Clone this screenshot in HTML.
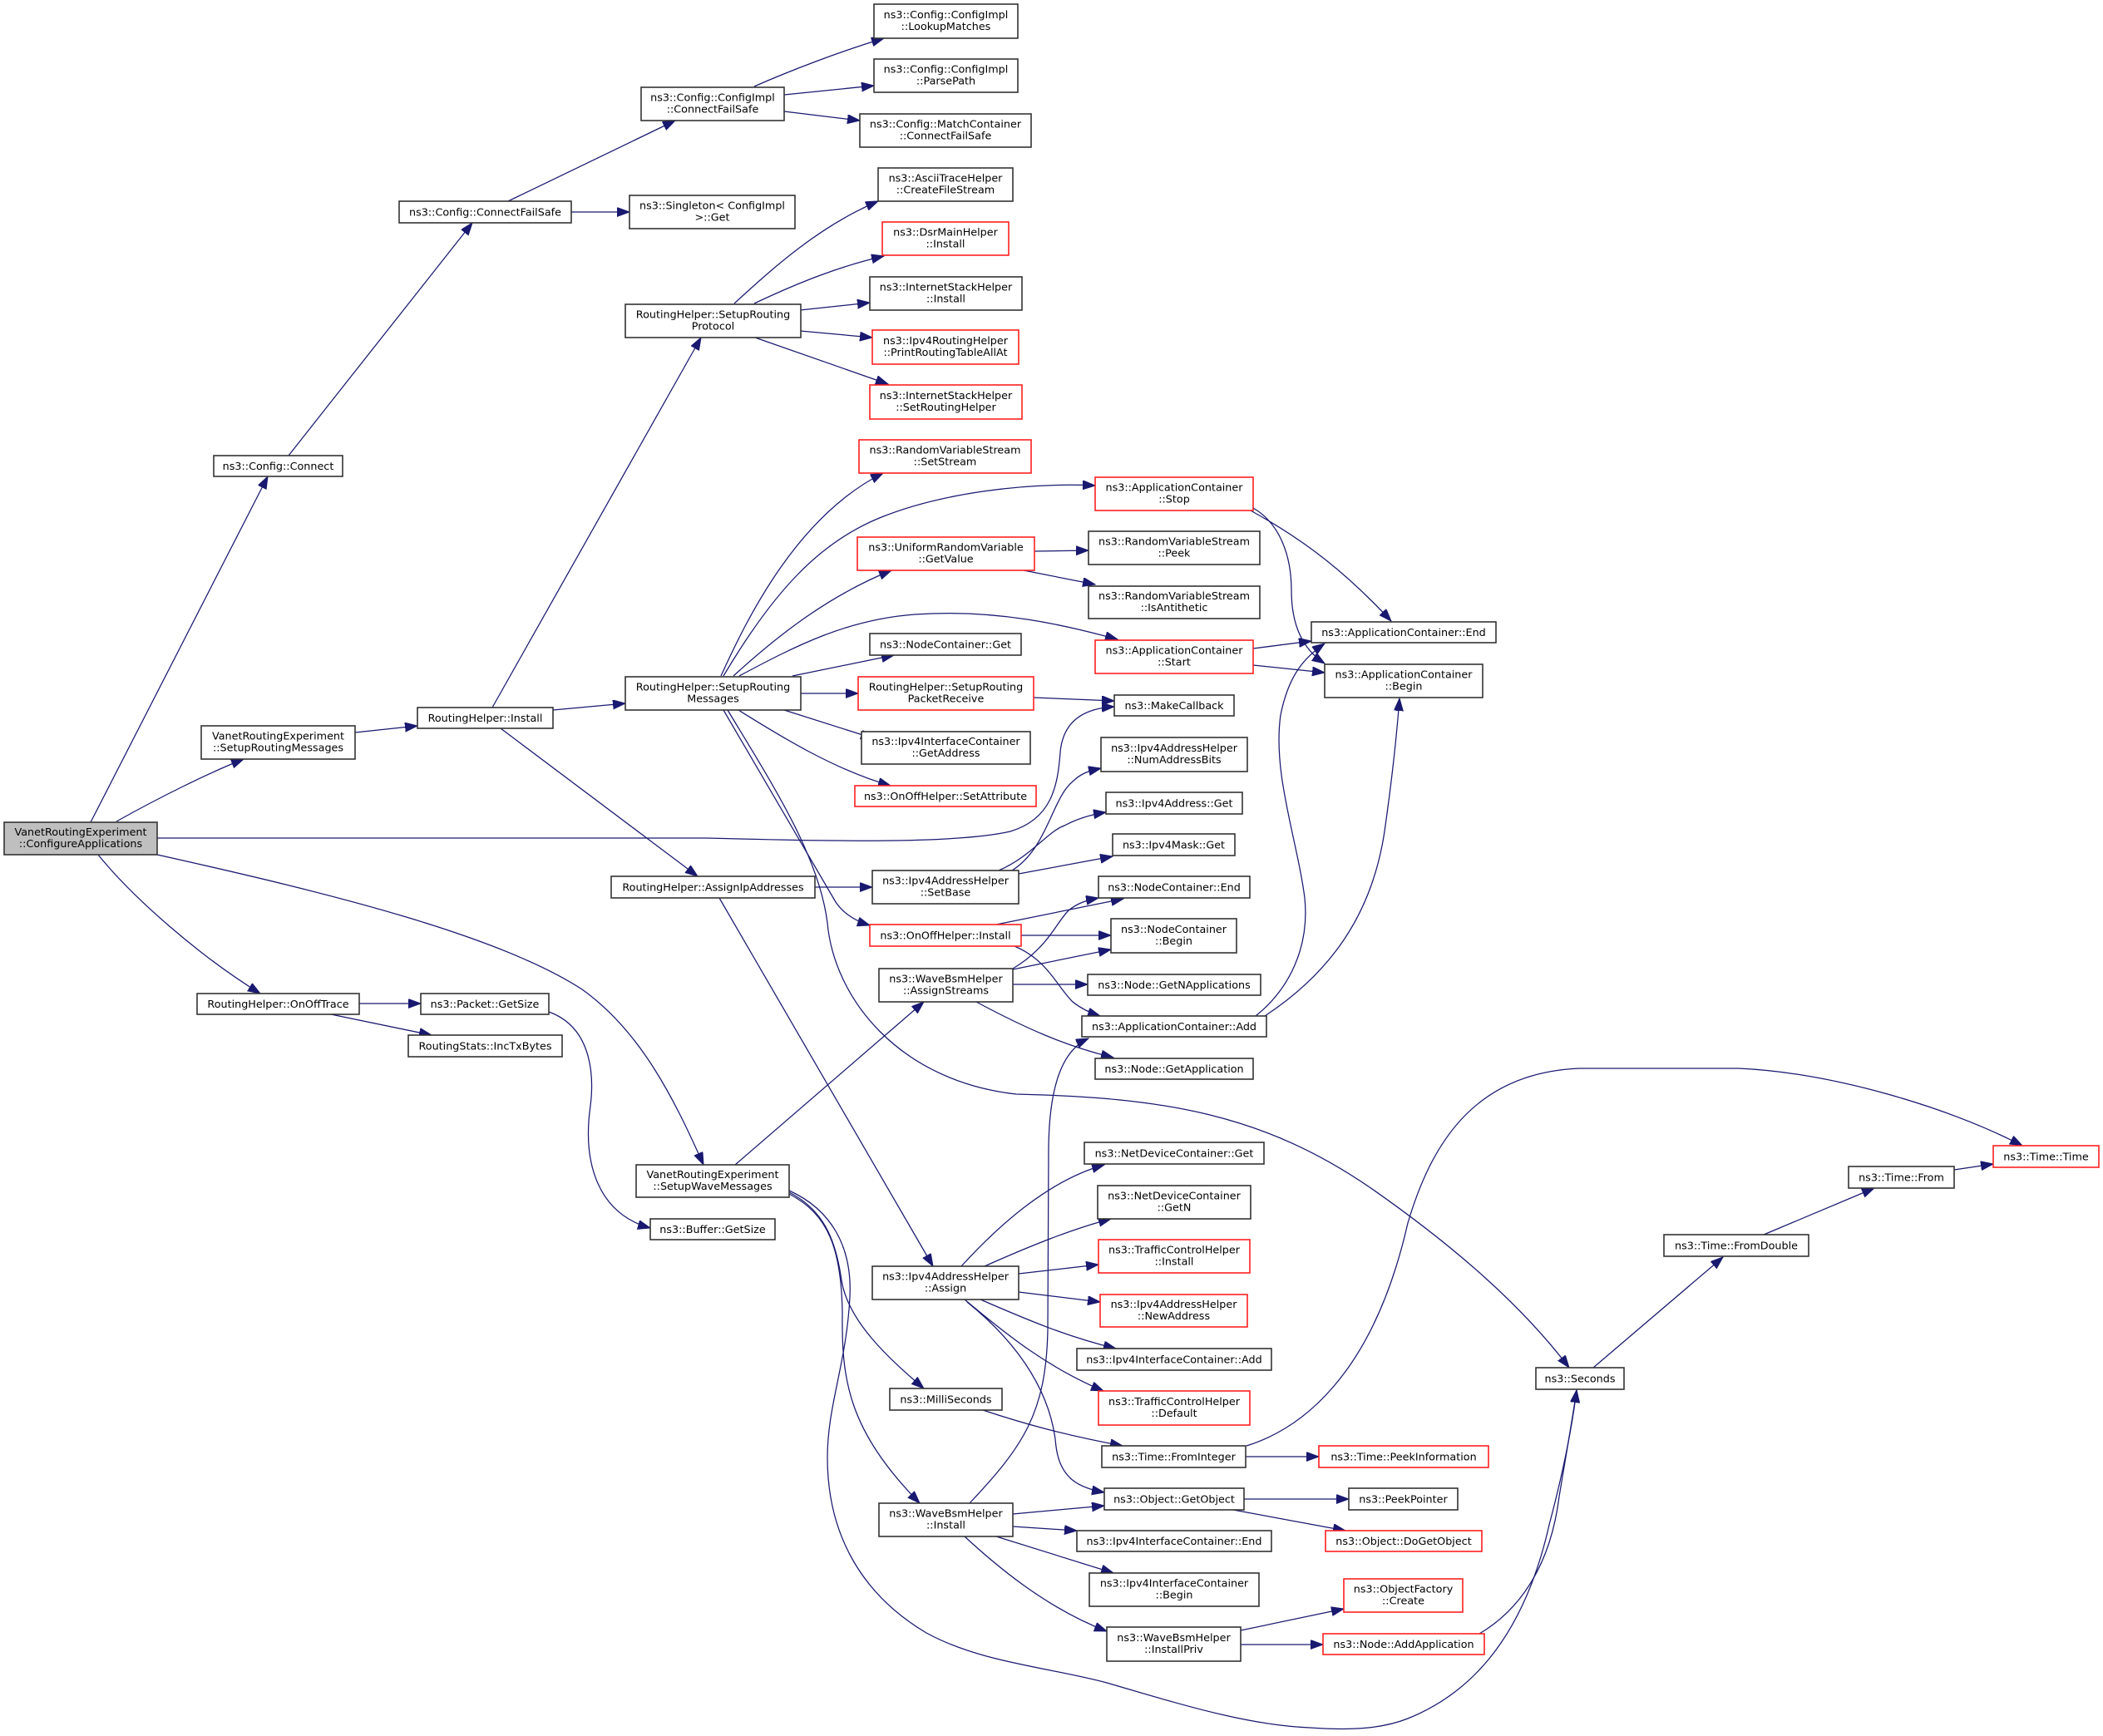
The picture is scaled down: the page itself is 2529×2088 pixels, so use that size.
<!DOCTYPE html>
<html><head><meta charset="utf-8"><style>
html,body{margin:0;padding:0;background:#fff;}
svg{display:block;}
text{font-family:"DejaVu Sans","Liberation Sans",sans-serif;font-size:12.75px;fill:#000;text-anchor:middle;}
.n{fill:#fff;stroke:#333;stroke-width:1.6;}
.r{fill:#fff;stroke:#ff2020;stroke-width:1.6;}
.g{fill:#bfbfbf;stroke:#333;stroke-width:1.6;}
.e{fill:none;stroke:#191970;stroke-width:1.25;marker-end:url(#a);}
</style></head><body>
<svg width="2529" height="2088" viewBox="0 0 2529 2088" xmlns="http://www.w3.org/2000/svg">
<defs><marker id="a" markerWidth="16" markerHeight="12" refX="15" refY="5.5" orient="auto" markerUnits="userSpaceOnUse"><path d="M0,0 L15,5.5 L0,11 z" fill="#191970" stroke="#191970" stroke-width="1"/></marker></defs>
<rect x="0" y="0" width="2529" height="2088" fill="#fff"/>

<!-- edges -->
<path class="e" d="M109,989 L322,573"/>
<path class="e" d="M347,548 L568,268"/>
<path class="e" d="M611,242 L812,145"/>
<path class="e" d="M687,255 L757,255"/>
<path class="e" d="M907,104 C950,85 1010,62 1063,46"/>
<path class="e" d="M943,114 L1051,103"/>
<path class="e" d="M943,134 L1034,145"/>
<path class="e" d="M140,988 C190,960 250,930 293,913"/>
<path class="e" d="M427,881 L502,873"/>
<path class="e" d="M592,851 L843,406"/>
<path class="e" d="M665,854 L752,846"/>
<path class="e" d="M602,876 L839,1054"/>
<path class="e" d="M883,365 C930,322 985,272 1056,242"/>
<path class="e" d="M907,365 C960,340 1010,320 1063,308"/>
<path class="e" d="M962,373 L1046,364"/>
<path class="e" d="M962,398 L1049,406"/>
<path class="e" d="M908,406 L1068,462"/>
<path class="e" d="M867,813 C900,740 960,620 1062,569"/>
<path class="e" d="M870,813 C930,712 985,652 1060,622 C1130,594 1230,580 1317,584"/>
<path class="e" d="M882,813 C940,760 1000,715 1072,686"/>
<path class="e" d="M889,813 C960,775 1020,745 1100,739 C1200,732 1280,752 1344,769"/>
<path class="e" d="M953,813 L1075,788"/>
<path class="e" d="M963,834 L1032,834"/>
<path class="e" d="M1243,839 L1340,843"/>
<path class="e" d="M943,854 L1050,888"/>
<path class="e" d="M888,854 C930,880 1000,925 1071,945"/>
<path class="e" d="M870,854 L1005,1085 C1015,1100 1030,1108 1046,1113"/>
<path class="e" d="M875,854 C930,945 985,1030 995,1110 C1003,1200 1080,1300 1222,1316 C1400,1320 1520,1340 1650,1430 C1750,1500 1830,1570 1887,1645"/>
<path class="e" d="M189,1008 L850,1008 C1000,1012 1150,1015 1215,1000 C1265,985 1272,945 1275,905 C1278,870 1300,852 1340,850"/>
<path class="e" d="M189,1028 C400,1075 600,1125 700,1190 C770,1240 810,1320 846,1401"/>
<path class="e" d="M118,1028 C160,1080 240,1150 313,1195"/>
<path class="e" d="M432,1207 L506,1207"/>
<path class="e" d="M398,1220 L519,1245"/>
<path class="e" d="M660,1217 C710,1235 715,1290 710,1330 C700,1400 720,1460 782,1477"/>
<path class="e" d="M980,1067 L1049,1067"/>
<path class="e" d="M1217,1047 C1260,1020 1265,960 1290,940 C1300,930 1310,927 1324,924"/>
<path class="e" d="M1201,1047 C1240,1030 1260,1000 1280,993 C1295,985 1310,980 1330,977"/>
<path class="e" d="M1225,1051 L1338,1030"/>
<path class="e" d="M1198,1112 L1351,1081"/>
<path class="e" d="M1228,1125 L1336,1125"/>
<path class="e" d="M1220,1138 C1260,1155 1270,1185 1290,1205 C1300,1213 1310,1218 1323,1222"/>
<path class="e" d="M1218,1165 C1260,1140 1270,1110 1285,1095 C1295,1087 1305,1083 1321,1080"/>
<path class="e" d="M1218,1166 L1336,1142"/>
<path class="e" d="M1218,1184 L1308,1184"/>
<path class="e" d="M1174,1205 C1230,1235 1280,1258 1339,1272"/>
<path class="e" d="M1510,1222 C1550,1190 1575,1140 1569,1080 C1560,1010 1530,930 1540,860 C1550,810 1570,790 1593,774"/>
<path class="e" d="M1521,1222 C1600,1170 1650,1100 1665,1000 C1675,930 1680,880 1683,840"/>
<path class="e" d="M1502,613 C1570,650 1620,690 1673,747"/>
<path class="e" d="M1507,611 C1540,630 1553,670 1553,710 C1553,750 1565,780 1593,798"/>
<path class="e" d="M1507,780 L1577,771"/>
<path class="e" d="M1507,800 L1593,809"/>
<path class="e" d="M1244,663 L1309,662"/>
<path class="e" d="M1231,686 L1317,703"/>
<path class="e" d="M884,1401 L1111,1205"/>
<path class="e" d="M865,1080 L1122,1523"/>
<path class="e" d="M1166,1808 C1230,1740 1258,1700 1260,1600 L1261,1380 C1262,1300 1280,1262 1309,1249"/>
<path class="e" d="M1156,1523 C1200,1475 1260,1420 1328,1401"/>
<path class="e" d="M1184,1523 C1240,1498 1290,1478 1336,1466"/>
<path class="e" d="M1225,1532 L1321,1521"/>
<path class="e" d="M1225,1554 L1323,1566"/>
<path class="e" d="M1179,1563 C1230,1585 1280,1607 1342,1622"/>
<path class="e" d="M1160,1563 C1210,1605 1260,1645 1327,1673"/>
<path class="e" d="M1163,1566 C1230,1620 1265,1680 1270,1740 C1275,1780 1300,1790 1328,1795"/>
<path class="e" d="M949,1434 C990,1455 1005,1490 1012,1540 C1020,1590 1070,1635 1111,1670"/>
<path class="e" d="M949,1436 C995,1460 1012,1500 1013,1580 C1012,1660 1020,1720 1106,1808"/>
<path class="e" d="M949,1432 C1000,1455 1025,1500 1022,1560 C1018,1640 995,1690 995,1753 C995,1850 1040,1920 1114,1964 C1180,2000 1260,2005 1331,2024 C1420,2050 1500,2075 1575,2078 C1630,2082 1665,2078 1693,2067 C1760,2040 1830,1980 1863,1834 C1880,1770 1890,1720 1896,1672"/>
<path class="e" d="M1182,1696 C1230,1712 1280,1726 1350,1739"/>
<path class="e" d="M1498,1752 L1586,1752"/>
<path class="e" d="M1499,1739 C1560,1720 1650,1660 1693,1471 C1720,1380 1770,1290 1900,1285 L2091,1285 C2200,1290 2340,1330 2432,1378"/>
<path class="e" d="M1496,1803 L1622,1803"/>
<path class="e" d="M1483,1816 L1618,1841"/>
<path class="e" d="M1218,1821 L1328,1811"/>
<path class="e" d="M1218,1836 L1295,1841"/>
<path class="e" d="M1198,1848 L1339,1892"/>
<path class="e" d="M1160,1848 C1200,1885 1260,1935 1331,1962"/>
<path class="e" d="M1492,1961 L1616,1935"/>
<path class="e" d="M1492,1978 L1591,1978"/>
<path class="e" d="M1779,1965 C1830,1935 1865,1880 1875,1800 C1885,1740 1892,1700 1896,1672"/>
<path class="e" d="M1916,1645 L2072,1512"/>
<path class="e" d="M2121,1485 L2254,1429"/>
<path class="e" d="M2350,1407 L2397,1400"/>

<!-- nodes -->
<rect class="g" x="5" y="989" width="184" height="39"/><text x="97" y="1005">VanetRoutingExperiment</text><text x="97" y="1019">::ConfigureApplications</text>
<rect class="n" x="257" y="548" width="155" height="25"/><text x="334.5" y="564.8">ns3::Config::Connect</text>
<rect class="n" x="480" y="242" width="207" height="26"/><text x="583.5" y="259.3">ns3::Config::ConnectFailSafe</text>
<rect class="n" x="771" y="105" width="172" height="40"/><text x="857" y="121.5">ns3::Config::ConfigImpl</text><text x="857" y="135.5">::ConnectFailSafe</text>
<rect class="n" x="757" y="235" width="199" height="40"/><text x="856.5" y="251.5">ns3::Singleton&lt; ConfigImpl</text><text x="856.5" y="265.5">&gt;::Get</text>
<rect class="n" x="1051" y="5" width="173" height="41"/><text x="1137.5" y="22">ns3::Config::ConfigImpl</text><text x="1137.5" y="36">::LookupMatches</text>
<rect class="n" x="1051" y="71" width="173" height="40"/><text x="1137.5" y="87.5">ns3::Config::ConfigImpl</text><text x="1137.5" y="101.5">::ParsePath</text>
<rect class="n" x="1034" y="137" width="206" height="40"/><text x="1137" y="153.5">ns3::Config::MatchContainer</text><text x="1137" y="167.5">::ConnectFailSafe</text>
<rect class="n" x="242" y="873" width="185" height="40"/><text x="334.5" y="889.5">VanetRoutingExperiment</text><text x="334.5" y="903.5">::SetupRoutingMessages</text>
<rect class="n" x="502" y="851" width="163" height="25"/><text x="583.5" y="867.8">RoutingHelper::Install</text>
<rect class="n" x="752" y="366" width="211" height="40"/><text x="857.5" y="382.5">RoutingHelper::SetupRouting</text><text x="857.5" y="396.5">Protocol</text>
<rect class="n" x="1056" y="202" width="162" height="40"/><text x="1137" y="218.5">ns3::AsciiTraceHelper</text><text x="1137" y="232.5">::CreateFileStream</text>
<rect class="r" x="1061" y="267" width="152" height="40"/><text x="1137" y="283.5">ns3::DsrMainHelper</text><text x="1137" y="297.5">::Install</text>
<rect class="n" x="1046" y="333" width="183" height="40"/><text x="1137.5" y="349.5">ns3::InternetStackHelper</text><text x="1137.5" y="363.5">::Install</text>
<rect class="r" x="1049" y="397" width="176" height="41"/><text x="1137" y="414">ns3::Ipv4RoutingHelper</text><text x="1137" y="428">::PrintRoutingTableAllAt</text>
<rect class="r" x="1046" y="463" width="183" height="41"/><text x="1137.5" y="480">ns3::InternetStackHelper</text><text x="1137.5" y="494">::SetRoutingHelper</text>
<rect class="r" x="1033" y="529" width="207" height="40"/><text x="1136.5" y="545.5">ns3::RandomVariableStream</text><text x="1136.5" y="559.5">::SetStream</text>
<rect class="r" x="1317" y="574" width="190" height="40"/><text x="1412" y="590.5">ns3::ApplicationContainer</text><text x="1412" y="604.5">::Stop</text>
<rect class="r" x="1031" y="646" width="213" height="40"/><text x="1137.5" y="662.5">ns3::UniformRandomVariable</text><text x="1137.5" y="676.5">::GetValue</text>
<rect class="n" x="1309" y="639" width="206" height="40"/><text x="1412" y="655.5">ns3::RandomVariableStream</text><text x="1412" y="669.5">::Peek</text>
<rect class="n" x="1309" y="705" width="206" height="39"/><text x="1412" y="721">ns3::RandomVariableStream</text><text x="1412" y="735">::IsAntithetic</text>
<rect class="r" x="1317" y="770" width="190" height="40"/><text x="1412" y="786.5">ns3::ApplicationContainer</text><text x="1412" y="800.5">::Start</text>
<rect class="n" x="1577" y="748" width="222" height="25"/><text x="1688" y="764.8">ns3::ApplicationContainer::End</text>
<rect class="n" x="1593" y="799" width="190" height="40"/><text x="1688" y="815.5">ns3::ApplicationContainer</text><text x="1688" y="829.5">::Begin</text>
<rect class="n" x="1046" y="762" width="182" height="26"/><text x="1137" y="779.3">ns3::NodeContainer::Get</text>
<rect class="n" x="752" y="814" width="211" height="40"/><text x="857.5" y="830.5">RoutingHelper::SetupRouting</text><text x="857.5" y="844.5">Messages</text>
<rect class="r" x="1032" y="814" width="211" height="40"/><text x="1137.5" y="830.5">RoutingHelper::SetupRouting</text><text x="1137.5" y="844.5">PacketReceive</text>
<rect class="n" x="1340" y="836" width="144" height="25"/><text x="1412" y="852.8">ns3::MakeCallback</text>
<rect class="n" x="1036" y="880" width="203" height="39"/><text x="1137.5" y="896">ns3::Ipv4InterfaceContainer</text><text x="1137.5" y="910">::GetAddress</text>
<rect class="r" x="1028" y="945" width="218" height="25"/><text x="1137" y="961.8">ns3::OnOffHelper::SetAttribute</text>
<rect class="n" x="1324" y="887" width="176" height="41"/><text x="1412" y="904">ns3::Ipv4AddressHelper</text><text x="1412" y="918">::NumAddressBits</text>
<rect class="n" x="1330" y="953" width="164" height="26"/><text x="1412" y="970.3">ns3::Ipv4Address::Get</text>
<rect class="n" x="1338" y="1003" width="147" height="26"/><text x="1411.5" y="1020.3">ns3::Ipv4Mask::Get</text>
<rect class="n" x="735" y="1054" width="245" height="26"/><text x="857.5" y="1071.3">RoutingHelper::AssignIpAddresses</text>
<rect class="n" x="1049" y="1047" width="176" height="40"/><text x="1137" y="1063.5">ns3::Ipv4AddressHelper</text><text x="1137" y="1077.5">::SetBase</text>
<rect class="n" x="1321" y="1054" width="182" height="26"/><text x="1412" y="1071.3">ns3::NodeContainer::End</text>
<rect class="r" x="1046" y="1112" width="182" height="26"/><text x="1137" y="1129.3">ns3::OnOffHelper::Install</text>
<rect class="n" x="1336" y="1105" width="151" height="41"/><text x="1411.5" y="1122">ns3::NodeContainer</text><text x="1411.5" y="1136">::Begin</text>
<rect class="n" x="1057" y="1165" width="161" height="40"/><text x="1137.5" y="1181.5">ns3::WaveBsmHelper</text><text x="1137.5" y="1195.5">::AssignStreams</text>
<rect class="n" x="1308" y="1172" width="208" height="25"/><text x="1412" y="1188.8">ns3::Node::GetNApplications</text>
<rect class="n" x="1301" y="1222" width="222" height="25"/><text x="1412" y="1238.8">ns3::ApplicationContainer::Add</text>
<rect class="n" x="1317" y="1273" width="190" height="25"/><text x="1412" y="1289.8">ns3::Node::GetApplication</text>
<rect class="n" x="237" y="1195" width="195" height="25"/><text x="334.5" y="1211.8">RoutingHelper::OnOffTrace</text>
<rect class="n" x="506" y="1195" width="154" height="25"/><text x="583" y="1211.8">ns3::Packet::GetSize</text>
<rect class="n" x="491" y="1245" width="185" height="26"/><text x="583.5" y="1262.3">RoutingStats::IncTxBytes</text>
<rect class="n" x="765" y="1401" width="184" height="39"/><text x="857" y="1417">VanetRoutingExperiment</text><text x="857" y="1431">::SetupWaveMessages</text>
<rect class="n" x="782" y="1466" width="150" height="25"/><text x="857" y="1482.8">ns3::Buffer::GetSize</text>
<rect class="n" x="1304" y="1374" width="216" height="26"/><text x="1412" y="1391.3">ns3::NetDeviceContainer::Get</text>
<rect class="n" x="1320" y="1426" width="184" height="40"/><text x="1412" y="1442.5">ns3::NetDeviceContainer</text><text x="1412" y="1456.5">::GetN</text>
<rect class="r" x="1321" y="1491" width="182" height="40"/><text x="1412" y="1507.5">ns3::TrafficControlHelper</text><text x="1412" y="1521.5">::Install</text>
<rect class="r" x="1323" y="1557" width="177" height="39"/><text x="1411.5" y="1573">ns3::Ipv4AddressHelper</text><text x="1411.5" y="1587">::NewAddress</text>
<rect class="n" x="1295" y="1622" width="234" height="26"/><text x="1412" y="1639.3">ns3::Ipv4InterfaceContainer::Add</text>
<rect class="r" x="1321" y="1673" width="182" height="41"/><text x="1412" y="1690">ns3::TrafficControlHelper</text><text x="1412" y="1704">::Default</text>
<rect class="n" x="1325" y="1739" width="173" height="26"/><text x="1411.5" y="1756.3">ns3::Time::FromInteger</text>
<rect class="r" x="1586" y="1739" width="204" height="26"/><text x="1688" y="1756.3">ns3::Time::PeekInformation</text>
<rect class="n" x="1328" y="1790" width="168" height="26"/><text x="1412" y="1807.3">ns3::Object::GetObject</text>
<rect class="n" x="1622" y="1790" width="131" height="26"/><text x="1687.5" y="1807.3">ns3::PeekPointer</text>
<rect class="r" x="1594" y="1841" width="188" height="25"/><text x="1688" y="1857.8">ns3::Object::DoGetObject</text>
<rect class="n" x="1295" y="1841" width="234" height="25"/><text x="1412" y="1857.8">ns3::Ipv4InterfaceContainer::End</text>
<rect class="n" x="1310" y="1892" width="204" height="40"/><text x="1412" y="1908.5">ns3::Ipv4InterfaceContainer</text><text x="1412" y="1922.5">::Begin</text>
<rect class="r" x="1616" y="1899" width="143" height="40"/><text x="1687.5" y="1915.5">ns3::ObjectFactory</text><text x="1687.5" y="1929.5">::Create</text>
<rect class="n" x="1331" y="1957" width="161" height="41"/><text x="1411.5" y="1974">ns3::WaveBsmHelper</text><text x="1411.5" y="1988">::InstallPriv</text>
<rect class="r" x="1591" y="1965" width="194" height="25"/><text x="1688" y="1981.8">ns3::Node::AddApplication</text>
<rect class="n" x="1049" y="1523" width="176" height="40"/><text x="1137" y="1539.5">ns3::Ipv4AddressHelper</text><text x="1137" y="1553.5">::Assign</text>
<rect class="n" x="1070" y="1670" width="135" height="26"/><text x="1137.5" y="1687.3">ns3::MilliSeconds</text>
<rect class="n" x="1057" y="1808" width="161" height="40"/><text x="1137.5" y="1824.5">ns3::WaveBsmHelper</text><text x="1137.5" y="1838.5">::Install</text>
<rect class="n" x="1847" y="1645" width="106" height="26"/><text x="1900" y="1662.3">ns3::Seconds</text>
<rect class="n" x="2001" y="1485" width="174" height="26"/><text x="2088" y="1502.3">ns3::Time::FromDouble</text>
<rect class="n" x="2223" y="1403" width="127" height="26"/><text x="2286.5" y="1420.3">ns3::Time::From</text>
<rect class="r" x="2397" y="1378" width="127" height="26"/><text x="2460.5" y="1395.3">ns3::Time::Time</text>
</svg>
</body></html>
